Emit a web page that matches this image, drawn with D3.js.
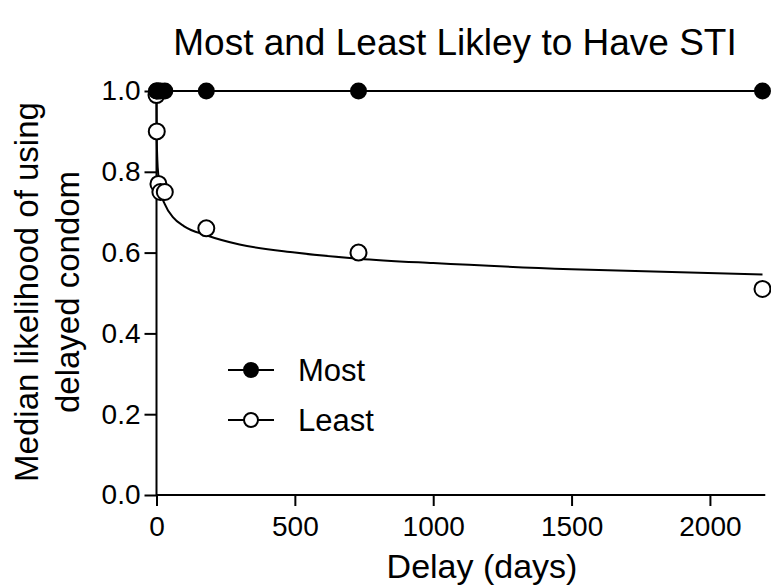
<!DOCTYPE html>
<html>
<head>
<meta charset="utf-8">
<script src="https://cdn.jsdelivr.net/npm/d3@7"></script>
<style>
  html, body { margin: 0; padding: 0; background: #fff; }
  svg { display: block; }
  text { font-family: "Liberation Sans", Arial, sans-serif; fill: #000; }
</style>
</head>
<body>
<svg id="chart" width="771" height="588"></svg>
<script>
// ---- Data ----
const delays = [0, 1, 7, 14, 30, 180, 730, 2190];
const mostValues = [1.0, 1.0, 1.0, 1.0, 1.0, 1.0, 1.0, 1.0];
const leastValues = [0.99, 0.90, 0.77, 0.75, 0.75, 0.66, 0.60, 0.51];
// fitted curve for "Least"
const leastFitDelays = [0, 1, 3, 7, 15, 30, 60, 100, 180, 300, 500, 730, 1000, 1500, 2190];
const leastFitValues = [1.0, 0.88, 0.83, 0.79, 0.75, 0.72, 0.687, 0.665, 0.643, 0.62, 0.60, 0.585, 0.574, 0.559, 0.546];
const xTicks = [0, 500, 1000, 1500, 2000];
const yTicks = [0.0, 0.2, 0.4, 0.6, 0.8, 1.0];
const seriesNames = ["Most", "Least"];
const titleText = "Most and Least Likley to Have STI";
const xLabel = "Delay (days)";
const yLabelLines = ["Median likelihood of using", "delayed condom"];

// ---- Layout ----
const svg = d3.select("#chart");
const x = d3.scaleLinear().domain([0, 2190]).range([156.5, 762.5]);
const y = d3.scaleLinear().domain([0, 1]).range([495, 91]);

// Title
svg.append("text")
  .attr("x", 455).attr("y", 55)
  .attr("text-anchor", "middle")
  .style("font-size", "37px")
  .text(titleText);

// Axes
const xAxis = d3.axisBottom(x).tickValues(xTicks).tickFormat(d3.format("d")).tickSize(11).tickPadding(10);
const yAxis = d3.axisLeft(y).tickValues(yTicks).tickFormat(d3.format(".1f")).tickSize(12).tickPadding(4);

const gx = svg.append("g").attr("transform", `translate(0,${y(0)})`).call(xAxis);
const gy = svg.append("g").attr("transform", `translate(${x(0)},0)`).call(yAxis);
[gx, gy].forEach(g => {
  g.select(".domain").attr("stroke", "#000").attr("stroke-width", 2);
  g.selectAll(".tick line").attr("stroke", "#000").attr("stroke-width", 2);
  g.selectAll(".tick text").style("font-size", "28px").attr("fill", "#000")
    .style("font-family", "'Liberation Sans', Arial, sans-serif");
});
gx.select(".domain").attr("d", `M${x(0)},0H${x(2200)}`);
gy.select(".domain").attr("d", `M0,${y(0)}V${y(1)}`);

// Axis titles
svg.append("text")
  .attr("x", 482).attr("y", 578)
  .attr("text-anchor", "middle")
  .style("font-size", "34px")
  .text(xLabel);

const yl = svg.append("text")
  .attr("transform", "translate(0,292) rotate(-90)")
  .attr("text-anchor", "middle")
  .style("font-size", "33px");
yl.append("tspan").attr("x", 0).attr("y", 38).text(yLabelLines[0]);
yl.append("tspan").attr("x", 0).attr("y", 79).text(yLabelLines[1]);

// Lines
const most = delays.map((d, i) => ({ d, v: mostValues[i] }));
const least = delays.map((d, i) => ({ d, v: leastValues[i] }));
const fit = leastFitDelays.map((d, i) => ({ d, v: leastFitValues[i] }));

const line = d3.line().x(p => x(p.d)).y(p => y(p.v));
svg.append("path").datum(most)
  .attr("d", line).attr("fill", "none").attr("stroke", "#000").attr("stroke-width", 2);
svg.append("path").datum(fit)
  .attr("d", line.curve(d3.curveMonotoneX)).attr("fill", "none").attr("stroke", "#000").attr("stroke-width", 2);

// Points
svg.append("g").selectAll("circle").data(least).join("circle")
  .attr("cx", p => x(p.d)).attr("cy", p => y(p.v)).attr("r", 8)
  .attr("fill", "#fff").attr("stroke", "#000").attr("stroke-width", 2);
svg.append("g").selectAll("circle").data(most).join("circle")
  .attr("cx", p => x(p.d)).attr("cy", p => y(p.v)).attr("r", 8.5)
  .attr("fill", "#000");

// Legend
const legendY = [370, 420];
seriesNames.forEach((name, i) => {
  const g = svg.append("g").attr("transform", `translate(0,${legendY[i]})`);
  g.append("line").attr("x1", 228).attr("x2", 274).attr("y1", 0).attr("y2", 0)
    .attr("stroke", "#000").attr("stroke-width", 2);
  g.append("circle").attr("cx", 251).attr("cy", 0).attr("r", 7)
    .attr("fill", i === 0 ? "#000" : "#fff").attr("stroke", "#000").attr("stroke-width", 2);
  g.append("text").attr("x", 298).attr("y", 0).attr("dy", "0.35em")
    .style("font-size", "31px").text(name);
});
</script>
</body>
</html>
